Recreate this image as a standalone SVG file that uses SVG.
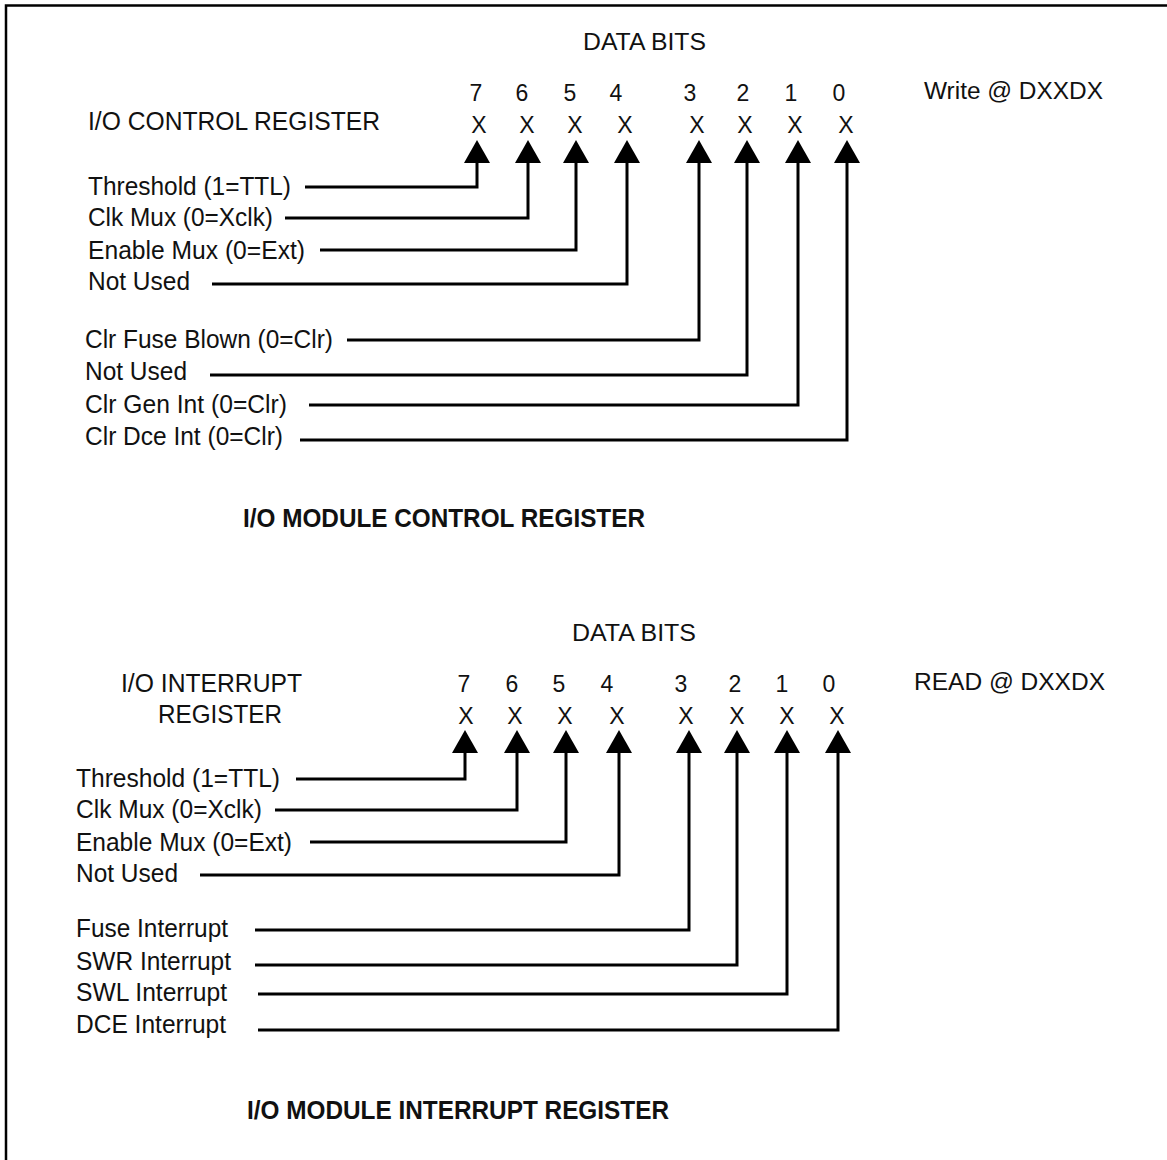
<svg xmlns="http://www.w3.org/2000/svg" width="1167" height="1160" viewBox="0 0 1167 1160">
<style>
text{font-family:"Liberation Sans",Arial,sans-serif;fill:#111;}
.lbl{font-size:25px;}
.bit{font-size:23px;text-anchor:middle;}
.hdr{font-size:23px;}
.ttl{font-size:25px;font-weight:bold;}
.conn path{fill:none;stroke:#000;stroke-width:3;stroke-linejoin:miter;marker-end:url(#ah);}
</style>
<defs>
<marker id="ah" markerUnits="userSpaceOnUse" markerWidth="24" markerHeight="26" refX="0" refY="13" orient="auto" viewBox="0 0 24 26">
<path d="M0,0 L23,13 L0,26 z" fill="#000"/>
</marker>
</defs>
<rect width="1167" height="1160" fill="#fff"/>
<g id="frame" stroke="#000" stroke-width="2.5" fill="none">
<path d="M6,1160 V5.5 H1167"/>
</g>

<g id="control-register">
<text class="hdr" x="583" y="50" textLength="123" lengthAdjust="spacingAndGlyphs">DATA BITS</text>
<text class="lbl" x="88" y="130" textLength="292" lengthAdjust="spacingAndGlyphs">I/O CONTROL REGISTER</text>
<text class="hdr" x="924" y="99" textLength="179" lengthAdjust="spacingAndGlyphs">Write @ DXXDX</text>
<g id="ctl-bits">
<text class="bit" x="476" y="101">7</text><text class="bit" x="522" y="101">6</text><text class="bit" x="570" y="101">5</text><text class="bit" x="616" y="101">4</text>
<text class="bit" x="690" y="101">3</text><text class="bit" x="743" y="101">2</text><text class="bit" x="791" y="101">1</text><text class="bit" x="839" y="101">0</text>
<text class="bit" x="479" y="133">X</text><text class="bit" x="527" y="133">X</text><text class="bit" x="575" y="133">X</text><text class="bit" x="625" y="133">X</text>
<text class="bit" x="697" y="133">X</text><text class="bit" x="745" y="133">X</text><text class="bit" x="795" y="133">X</text><text class="bit" x="846" y="133">X</text>
</g>
<g id="ctl-labels">
<text class="lbl" x="88" y="195" textLength="203" lengthAdjust="spacingAndGlyphs">Threshold (1=TTL)</text>
<text class="lbl" x="88" y="226" textLength="185" lengthAdjust="spacingAndGlyphs">Clk Mux (0=Xclk)</text>
<text class="lbl" x="88" y="259" textLength="217" lengthAdjust="spacingAndGlyphs">Enable Mux (0=Ext)</text>
<text class="lbl" x="88" y="290" textLength="102" lengthAdjust="spacingAndGlyphs">Not Used</text>
<text class="lbl" x="85" y="348" textLength="248" lengthAdjust="spacingAndGlyphs">Clr Fuse Blown (0=Clr)</text>
<text class="lbl" x="85" y="380" textLength="102" lengthAdjust="spacingAndGlyphs">Not Used</text>
<text class="lbl" x="85" y="413" textLength="202" lengthAdjust="spacingAndGlyphs">Clr Gen Int (0=Clr)</text>
<text class="lbl" x="85" y="445" textLength="198" lengthAdjust="spacingAndGlyphs">Clr Dce Int (0=Clr)</text>
</g>
<text class="ttl" x="243" y="527" textLength="402" lengthAdjust="spacingAndGlyphs">I/O MODULE CONTROL REGISTER</text>
</g>

<g id="interrupt-register">
<text class="hdr" x="572" y="641" textLength="124" lengthAdjust="spacingAndGlyphs">DATA BITS</text>
<text class="lbl" x="121" y="692" textLength="181" lengthAdjust="spacingAndGlyphs">I/O INTERRUPT</text>
<text class="lbl" x="158" y="723" textLength="124" lengthAdjust="spacingAndGlyphs">REGISTER</text>
<text class="hdr" x="914" y="690" textLength="191" lengthAdjust="spacingAndGlyphs">READ @ DXXDX</text>
<g id="int-bits">
<text class="bit" x="464" y="692">7</text><text class="bit" x="512" y="692">6</text><text class="bit" x="559" y="692">5</text><text class="bit" x="607" y="692">4</text>
<text class="bit" x="681" y="692">3</text><text class="bit" x="735" y="692">2</text><text class="bit" x="782" y="692">1</text><text class="bit" x="829" y="692">0</text>
<text class="bit" x="466" y="724">X</text><text class="bit" x="515" y="724">X</text><text class="bit" x="565" y="724">X</text><text class="bit" x="617" y="724">X</text>
<text class="bit" x="686" y="724">X</text><text class="bit" x="737" y="724">X</text><text class="bit" x="787" y="724">X</text><text class="bit" x="837" y="724">X</text>
</g>
<g id="int-labels">
<text class="lbl" x="76" y="787" textLength="204" lengthAdjust="spacingAndGlyphs">Threshold (1=TTL)</text>
<text class="lbl" x="76" y="818" textLength="186" lengthAdjust="spacingAndGlyphs">Clk Mux (0=Xclk)</text>
<text class="lbl" x="76" y="851" textLength="216" lengthAdjust="spacingAndGlyphs">Enable Mux (0=Ext)</text>
<text class="lbl" x="76" y="882" textLength="102" lengthAdjust="spacingAndGlyphs">Not Used</text>
<text class="lbl" x="76" y="937" textLength="152" lengthAdjust="spacingAndGlyphs">Fuse Interrupt</text>
<text class="lbl" x="76" y="970" textLength="155" lengthAdjust="spacingAndGlyphs">SWR Interrupt</text>
<text class="lbl" x="76" y="1001" textLength="151" lengthAdjust="spacingAndGlyphs">SWL Interrupt</text>
<text class="lbl" x="76" y="1033" textLength="150" lengthAdjust="spacingAndGlyphs">DCE Interrupt</text>
</g>
<text class="ttl" x="247" y="1119" textLength="422" lengthAdjust="spacingAndGlyphs">I/O MODULE INTERRUPT REGISTER</text>
</g>

<g id="connectors" class="conn">
<path d="M305,187 H477 V163"/>
<path d="M285,218 H528 V163"/>
<path d="M320,250 H576 V163"/>
<path d="M212,284 H627 V163"/>
<path d="M347,340 H699 V163"/>
<path d="M210,375 H747 V163"/>
<path d="M309,405 H798 V163"/>
<path d="M300,440 H847 V163"/>
<path d="M296,779 H465 V753"/>
<path d="M275,810 H517 V753"/>
<path d="M310,842 H566 V753"/>
<path d="M200,875 H619 V753"/>
<path d="M255,930 H689 V753"/>
<path d="M255,965 H737 V753"/>
<path d="M258,994 H787 V753"/>
<path d="M258,1030 H838 V753"/>
</g>
</svg>
